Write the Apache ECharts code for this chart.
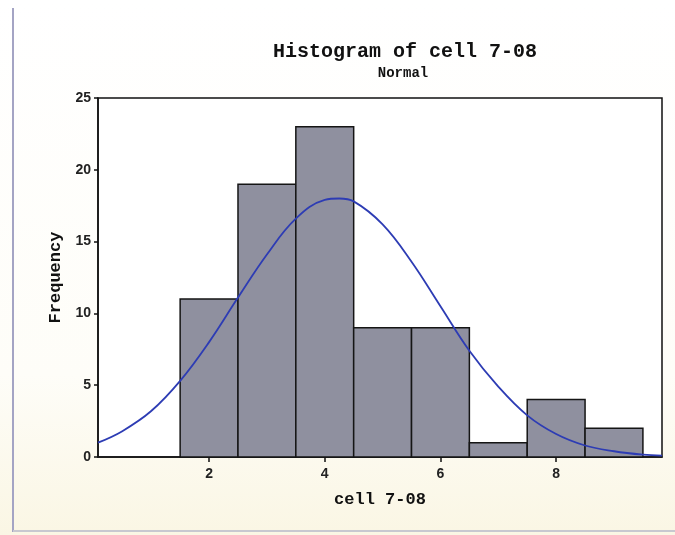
<!DOCTYPE html>
<html style="height: 100%">
<head>
<meta charset="utf-8">
<script src="https://cdn.jsdelivr.net/npm/echarts@6/dist/echarts.min.js"></script>
</head>
<body style="height: 100%; margin: 0">
<div id="container" style="width: 675px; height: 535px"></div>
<script type="text/javascript">
// histogram bins (lower edge, upper edge) and counts
var binLo = [1.5, 2.5, 3.5, 4.5, 5.5, 6.5, 7.5, 8.5];
var binHi = [2.5, 3.5, 4.5, 5.5, 6.5, 7.5, 8.5, 9.5];
var counts = [11, 19, 23, 9, 9, 1, 4, 2];

// fitted normal curve
var curveX = [0.08, 0.5, 1, 1.5, 2, 2.5, 3, 3.5, 4, 4.25, 4.5, 5, 5.5, 6, 6.5, 7, 7.5, 8, 8.5, 9, 9.5, 9.83];
var curveY = [1.0, 1.8, 3.2, 5.3, 8.0, 11.1, 14.1, 16.6, 17.9, 18.0, 17.8, 16.2, 13.6, 10.5, 7.4, 4.9, 2.9, 1.6, 0.8, 0.4, 0.16, 0.09];

var xTicks = [2, 4, 6, 8];

var bars = [];
for (var i = 0; i < counts.length; i++) bars.push([binLo[i], binHi[i], counts[i]]);
var curve = [];
for (var j = 0; j < curveX.length; j++) curve.push([curveX[j], curveY[j]]);

var myChart = echarts.init(document.getElementById('container'));
var option = {
    backgroundColor: {
        type: 'linear', x: 0, y: 0, x2: 0, y2: 1,
        colorStops: [{offset: 0, color: '#ffffff'}, {offset: 0.7, color: '#fefdf8'}, {offset: 1, color: '#faf6e4'}]
    },
    animation: false,
    graphic: [
        {type: 'line', shape: {x1: 13, y1: 8, x2: 13, y2: 532}, style: {stroke: '#a4a4c4', lineWidth: 2}},
        {type: 'line', shape: {x1: 13, y1: 531, x2: 675, y2: 531}, style: {stroke: '#c8c8d0', lineWidth: 2}},
        {type: 'text', x: 405, y: 42, style: {text: 'Histogram of cell 7-08', textAlign: 'center',
            font: 'bold 20px "Liberation Mono"', fill: '#111'}},
        {type: 'text', x: 403, y: 66, style: {text: 'Normal', textAlign: 'center',
            font: 'bold 14px "Liberation Mono"', fill: '#111'}}
    ],
    grid: {
        left: 98, right: 13, top: 98, bottom: 78,
        show: true, backgroundColor: '#ffffff', borderColor: '#111', borderWidth: 1.5
    },
    xAxis: {
        type: 'value', min: 0.08, max: 9.83,
        name: 'cell 7-08', nameLocation: 'middle', nameGap: 34,
        nameTextStyle: {fontFamily: 'Liberation Mono', fontWeight: 'bold', fontSize: 17, color: '#111'},
        axisLine: {lineStyle: {color: '#111', width: 1.5}},
        axisTick: {show: true, customValues: xTicks, length: 5, lineStyle: {color: '#111', width: 1.5}},
        axisLabel: {customValues: xTicks, margin: 10, fontFamily: 'Liberation Sans', fontWeight: 'bold', fontSize: 14, color: '#222'},
        splitLine: {show: false}
    },
    yAxis: {
        type: 'value', min: 0, max: 25, interval: 5,
        name: 'Frequency', nameLocation: 'middle', nameGap: 32,
        nameTextStyle: {fontFamily: 'Liberation Mono', fontWeight: 'bold', fontSize: 17, color: '#111'},
        axisLine: {show: true, lineStyle: {color: '#111', width: 1.5}},
        axisTick: {show: true, length: 4, lineStyle: {color: '#111', width: 1.5}},
        axisLabel: {margin: 7, fontFamily: 'Liberation Sans', fontWeight: 'bold', fontSize: 14, color: '#222'},
        splitLine: {show: false}
    },
    series: [{
        type: 'custom',
        data: bars,
        encode: {x: [0, 1], y: 2},
        renderItem: function (params, api) {
            var p0 = api.coord([api.value(0), api.value(2)]);
            var p1 = api.coord([api.value(1), 0]);
            return {
                type: 'rect',
                shape: {x: p0[0], y: p0[1], width: p1[0] - p0[0], height: p1[1] - p0[1]},
                style: {fill: '#8f909f', stroke: '#151515', lineWidth: 1.5}
            };
        },
        z: 2
    }, {
        type: 'line',
        data: curve,
        smooth: 0.4,
        showSymbol: false,
        lineStyle: {color: '#2d3cb4', width: 1.8},
        z: 3
    }]
};
myChart.setOption(option);
</script>
</body>
</html>
